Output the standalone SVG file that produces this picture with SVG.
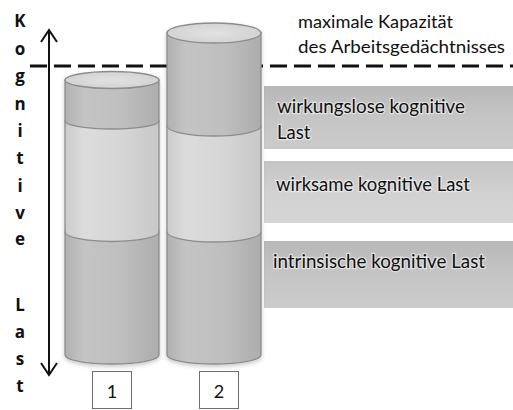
<svg xmlns="http://www.w3.org/2000/svg" width="513" height="410" viewBox="0 0 513 410">
  <style>
    .axis-letter { font-family: "Open Sans", "Liberation Sans", Arial, sans-serif; font-weight: bold; font-size: 17px; fill: #111; text-anchor: middle; }
    .caption { font-family: Lato, "Open Sans", sans-serif; font-size: 17px; fill: #111; }
    .band-text { font-family: Lato, "Open Sans", sans-serif; font-size: 18.5px; fill: #111; stroke: #ffffff; stroke-opacity: 0.5; stroke-width: 2.5; paint-order: stroke; }
    .num { font-family: Lato, "Open Sans", sans-serif; font-size: 18px; fill: #111; text-anchor: middle; }
    .seg-edge { stroke: #8c8c8c; stroke-width: 1.3; }
    .numbox { fill: #fff; stroke: #6e6e6e; stroke-width: 1; }
  </style>
  <defs>
    <linearGradient id="bodyDark" x1="0" y1="0" x2="1" y2="0">
      <stop offset="0" stop-color="#b0b0b0"/>
      <stop offset="0.2" stop-color="#c4c4c4"/>
      <stop offset="0.6" stop-color="#bfbfbf"/>
      <stop offset="1" stop-color="#adadad"/>
    </linearGradient>
    <linearGradient id="bodyLight" x1="0" y1="0" x2="1" y2="0">
      <stop offset="0" stop-color="#cbcbcb"/>
      <stop offset="0.2" stop-color="#dcdcdc"/>
      <stop offset="0.6" stop-color="#d6d6d6"/>
      <stop offset="1" stop-color="#c8c8c8"/>
    </linearGradient>
    <radialGradient id="face" cx="0.5" cy="0.5" r="0.6">
      <stop offset="0" stop-color="#e2e2e2"/>
      <stop offset="1" stop-color="#d0d0d0"/>
    </radialGradient>
    <linearGradient id="bandGrad" x1="0" y1="0" x2="0" y2="1">
      <stop offset="0" stop-color="#b8b8b8"/>
      <stop offset="0.5" stop-color="#c5c5c5"/>
      <stop offset="1" stop-color="#cbcbcb"/>
    </linearGradient>
    <linearGradient id="bandGradLight" x1="0" y1="0" x2="0" y2="1">
      <stop offset="0" stop-color="#c4c4c4"/>
      <stop offset="0.5" stop-color="#d1d1d1"/>
      <stop offset="1" stop-color="#d5d5d5"/>
    </linearGradient>
    <filter id="softShadow" x="-10%" y="-5%" width="120%" height="115%">
      <feDropShadow dx="0" dy="2" stdDeviation="2" flood-color="#000" flood-opacity="0.22"/>
    </filter>
  </defs>

  <rect width="513" height="410" fill="#ffffff"/>

  <!-- vertical axis caption -->
  <g id="axis-label">
    <text class="axis-letter" x="20" y="27">K</text>
    <text class="axis-letter" x="20" y="55">o</text>
    <text class="axis-letter" x="20" y="82">g</text>
    <text class="axis-letter" x="20" y="110">n</text>
    <text class="axis-letter" x="20" y="137">i</text>
    <text class="axis-letter" x="20" y="164">t</text>
    <text class="axis-letter" x="20" y="192">i</text>
    <text class="axis-letter" x="20" y="219">v</text>
    <text class="axis-letter" x="20" y="245">e</text>
    <text class="axis-letter" x="20" y="311">L</text>
    <text class="axis-letter" x="20" y="338">a</text>
    <text class="axis-letter" x="20" y="365">s</text>
    <text class="axis-letter" x="20" y="392">t</text>
  </g>

  <!-- load bands on the right -->
  <g id="band-wirkungslos">
    <rect x="264" y="86" width="249" height="63" fill="url(#bandGrad)"/>
    <text class="band-text" x="277" y="113" textLength="188" lengthAdjust="spacingAndGlyphs">wirkungslose kognitive</text>
    <text class="band-text" x="277" y="139">Last</text>
  </g>
  <g id="band-wirksam">
    <rect x="264" y="161" width="249" height="62" fill="url(#bandGradLight)"/>
    <text class="band-text" x="276" y="191" textLength="194" lengthAdjust="spacingAndGlyphs">wirksame kognitive Last</text>
  </g>
  <g id="band-intrinsisch">
    <rect x="264" y="241" width="249" height="67" fill="url(#bandGrad)"/>
    <text class="band-text" x="273" y="268" textLength="212" lengthAdjust="spacingAndGlyphs">intrinsische kognitive Last</text>
  </g>

  <!-- capacity caption -->
  <g id="capacity-label">
    <text class="caption" x="298" y="28" textLength="155" lengthAdjust="spacingAndGlyphs">maximale Kapazität</text>
    <text class="caption" x="298" y="53" textLength="207" lengthAdjust="spacingAndGlyphs">des Arbeitsgedächtnisses</text>
  </g>

  <!-- axis arrow and capacity limit -->
  <g id="connectors" fill="none" stroke="#111">
    <line x1="30" y1="66" x2="513" y2="66" stroke-width="3" stroke-dasharray="17 7"/>
    <line x1="49" y1="30" x2="49" y2="375" stroke-width="2"/>
    <polyline points="41,42 49,30 57,42" stroke-width="2"/>
    <polyline points="41,363 49,375 57,363" stroke-width="2"/>
  </g>

  <!-- cylinder 1 -->
  <g id="cylinder-1" filter="url(#softShadow)">
    <path class="seg-edge" d="M65,232 L65,355 A47,9 0 0 0 159,355 L159,232 Z" fill="url(#bodyDark)"/>
    <path class="seg-edge" d="M65,121 L65,232 A47,9.5 0 0 0 159,232 L159,121 Z" fill="url(#bodyLight)"/>
    <path class="seg-edge" d="M65,80 L65,121 A47,8 0 0 0 159,121 L159,80 Z" fill="url(#bodyDark)"/>
    <ellipse class="seg-edge" cx="112" cy="80" rx="47" ry="8.5" fill="url(#face)"/>
  </g>

  <!-- cylinder 2 -->
  <g id="cylinder-2" filter="url(#softShadow)">
    <path class="seg-edge" d="M167,232 L167,355 A47,9 0 0 0 261,355 L261,232 Z" fill="url(#bodyDark)"/>
    <path class="seg-edge" d="M167,126 L167,232 A47,10 0 0 0 261,232 L261,126 Z" fill="url(#bodyLight)"/>
    <path class="seg-edge" d="M167,33 L167,126 A47,10 0 0 0 261,126 L261,33 Z" fill="url(#bodyDark)"/>
    <ellipse class="seg-edge" cx="214" cy="33" rx="47" ry="10" fill="url(#face)"/>
  </g>

  <!-- cylinder numbers -->
  <g id="label-1">
    <rect class="numbox" x="92.5" y="371.5" width="39" height="37"/>
    <text class="num" x="112" y="398">1</text>
  </g>
  <g id="label-2">
    <rect class="numbox" x="199.5" y="371.5" width="39" height="37"/>
    <text class="num" x="219" y="398">2</text>
  </g>
</svg>
